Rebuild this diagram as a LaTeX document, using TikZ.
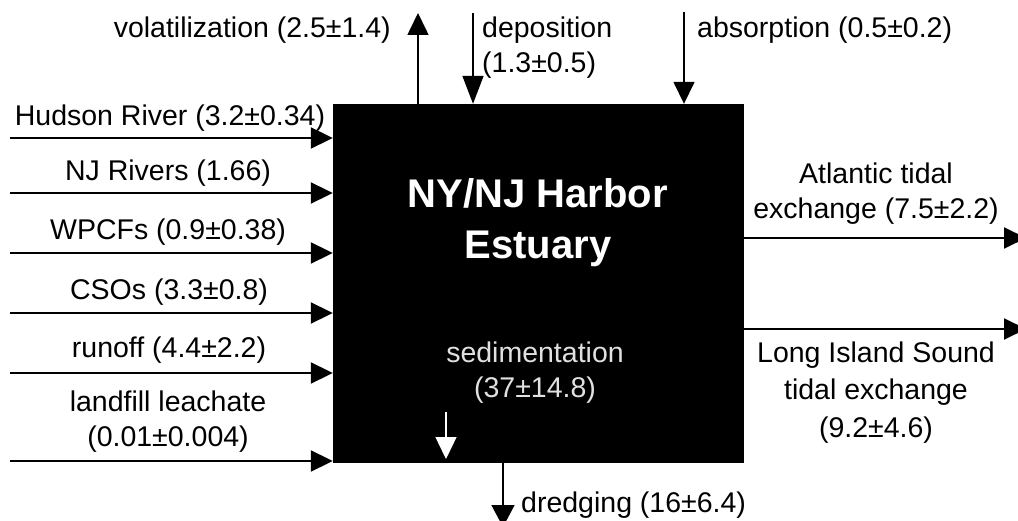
\documentclass[tikz,border=0pt]{standalone}
\usepackage{fontspec}
\setmainfont{Liberation Sans}
\usetikzlibrary{arrows.meta}
\tikzset{
  arr/.style={line width=2pt,-{Triangle[length=22pt,width=21pt]}},
  thinarr/.style={line width=1.6pt,-{Triangle[length=22pt,width=21pt]}},
  lbl/.style={font=\fontsize{28.5}{35}\selectfont, inner sep=0pt, align=center},
  ttl/.style={font=\fontsize{40}{51}\selectfont\bfseries, text=white, inner sep=0pt, align=center},
  sed/.style={font=\fontsize{28.5}{35}\selectfont, text={rgb,255:red,225;green,225;blue,225}, inner sep=0pt, align=center},
  boxstyle/.style={fill=black, draw=none, minimum width=411pt, minimum height=359pt, inner sep=0pt}
}
\begin{document}
\begin{tikzpicture}[x=1pt,y=-1pt]
\useasboundingbox (0,0) rectangle (1018,521);
% central box
\node[boxstyle] (box) at (538.5,283.5) {};
\node[ttl] (title) at (538,222.5) {NY/NJ Harbor\\Estuary};
\node[sed] (sedl) at (535,372.5) {sedimentation\\(37±14.8)};
\coordinate (s0) at (446,412);
\coordinate (s1) at (446,459);
\draw[line width=1.4pt, white, -{Triangle[length=22pt,width=21pt,fill=white]}] (s0) -- (s1);

% left inputs
\coordinate (l1) at (10,138);
\coordinate (l2) at (10,193);
\coordinate (l3) at (10,253);
\coordinate (l4) at (10,313);
\coordinate (l5) at (10,373);
\coordinate (l6) at (10,461);
\foreach \c in {l1,l2,l3,l4,l5,l6} \draw[arr] (\c) -- (\c -| box.west);
\node[lbl] (t1) at (170,118) {Hudson River (3.2±0.34)};
\node[lbl] (t2) at (168,173) {NJ Rivers (1.66)};
\node[lbl] (t3) at (168,232) {WPCFs (0.9±0.38)};
\node[lbl] (t4) at (169,292) {CSOs (3.3±0.8)};
\node[lbl] (t5) at (169,350) {runoff (4.4±2.2)};
\node[lbl] (t6) at (168,421.5) {landfill leachate\\(0.01±0.004)};

% top fluxes
\coordinate (v0) at (418,13);
\coordinate (dp) at (473,13);
\coordinate (ab) at (684,12);
\draw[thinarr] (v0 |- box.north) -- (v0);
\draw[line width=1.6pt,-{Triangle[length=28pt,width=21pt]}] (dp) -- (dp |- box.north);
\draw[thinarr] (ab) -- (ab |- box.north);
\node[lbl, anchor=east] (tv) at (391,30) {volatilization (2.5±1.4)};
\node[lbl, anchor=west, align=left] (td) at (482,47.5) {deposition\\(1.3±0.5)};
\node[lbl, anchor=west] (ta) at (697,30) {absorption (0.5±0.2)};

% right outputs
\coordinate (r1) at (1026,238);
\coordinate (r2) at (1026,329);
\draw[arr] (r1 -| box.east) -- (r1);
\draw[arr] (r2 -| box.east) -- (r2);
\node[lbl] (tr1) at (876,193.5) {Atlantic tidal\\exchange (7.5±2.2)};
\node[lbl, font=\fontsize{28.5}{37.5}\selectfont] (tr2) at (876,392.5) {Long Island Sound\\tidal exchange\\(9.2±4.6)};

% bottom
\coordinate (dr) at (503,527);
\draw[line width=1.6pt,-{Triangle[length=22pt,width=23pt]}] (dr |- box.south) -- (dr);
\node[lbl, anchor=west] (tdr) at (521,505) {dredging (16±6.4)};
\end{tikzpicture}
\end{document}
